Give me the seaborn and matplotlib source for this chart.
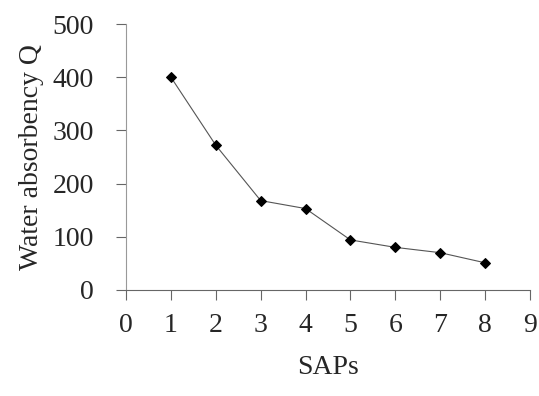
import matplotlib
matplotlib.use("Agg")
import matplotlib.pyplot as plt
import pandas as pd
import seaborn as sns

# values
saps = [1, 2, 3, 4, 5, 6, 7, 8]
water_q = [400, 272, 168, 153, 94, 80, 70, 51]

df = pd.DataFrame({"SAPs": saps, "Q": water_q})

sns.set_style("white")
plt.rcParams['font.family'] = ['Liberation Serif', 'DejaVu Serif']

fig = plt.figure(figsize=(5.39, 3.96), dpi=100)
ax = fig.add_axes([0.234, 0.268, 0.749, 0.671])

sns.lineplot(data=df, x="SAPs", y="Q", ax=ax, color="#555555", linewidth=0.8,
             marker="D", markersize=5.5, markerfacecolor="black",
             markeredgecolor="black")

ax.set_xlim(0, 9)
ax.set_ylim(0, 500)
ax.set_xticks(range(0, 10))
ax.set_yticks(range(0, 501, 100))
ax.tick_params(axis="both", labelsize=20, length=7, width=0.8,
               color="#666666", direction="out", bottom=True, left=True)
ax.tick_params(axis="x", pad=10)
ax.tick_params(axis="y", pad=16)

for side in ["top", "right"]:
    ax.spines[side].set_visible(False)
ax.spines["left"].set_color("#999999")
ax.spines["left"].set_linewidth(0.8)
ax.spines["bottom"].set_color("#666666")
ax.spines["bottom"].set_linewidth(0.8)

ax.set_xlabel("SAPs", fontsize=20, labelpad=12)
ax.set_ylabel("Water absorbency Q", fontsize=20, labelpad=6)

fig.savefig("out.png", dpi=100)
